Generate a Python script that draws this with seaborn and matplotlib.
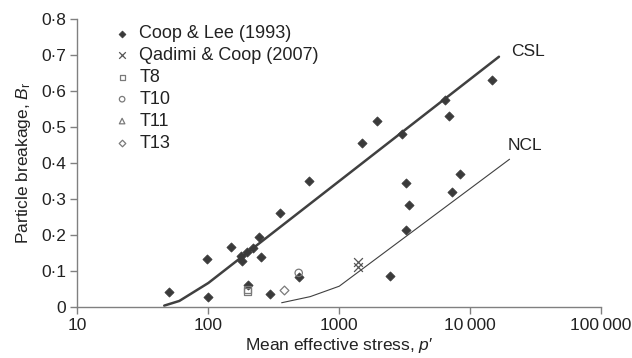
import matplotlib
matplotlib.use("Agg")
import matplotlib.pyplot as plt
import seaborn as sns

# Coop & Lee (1993): mean effective stress p' (kPa) and relative breakage Br
coop_p = [50, 97, 100, 150, 178, 182, 196, 202, 220, 242, 251, 296, 353, 495, 590,
          1480, 1930, 3030, 3250, 3400, 3250, 2440, 7300, 8300, 6430, 6930, 14600]
coop_br = [0.040, 0.133, 0.027, 0.165, 0.141, 0.128, 0.153, 0.060, 0.163, 0.194, 0.139,
           0.035, 0.261, 0.082, 0.349, 0.455, 0.515, 0.479, 0.345, 0.282, 0.213, 0.085,
           0.319, 0.368, 0.574, 0.529, 0.630]

# Qadimi & Coop (2007)
qadimi_p = [1400, 1400]
qadimi_br = [0.125, 0.111]

# Individual tests
t8_p, t8_br = [200, 200], [0.042, 0.047]
t10_p, t10_br = [490], [0.094]
t11_p, t11_br = [], []
t13_p, t13_br = [376], [0.046]

# Critical state line and normal compression line
csl_p = [46, 60, 100, 16600]
csl_br = [0.003, 0.016, 0.066, 0.695]
ncl_p = [363, 600, 1000, 20000]
ncl_br = [0.011, 0.028, 0.057, 0.410]

x_ticks = [10, 100, 1000, 10000, 100000]
x_ticklabels = ["10", "100", "1000", "10\u2009000", "100\u2009000"]
y_ticks = [0, 0.1, 0.2, 0.3, 0.4, 0.5, 0.6, 0.7, 0.8]
y_ticklabels = ["0", "0·1", "0·2", "0·3", "0·4", "0·5", "0·6", "0·7", "0·8"]

sns.set_theme(style="ticks")
plt.rcParams["font.family"] = ["Liberation Sans", "DejaVu Sans"]
plt.rcParams["mathtext.fontset"] = "custom"
plt.rcParams["mathtext.rm"] = "Liberation Sans"
plt.rcParams["mathtext.it"] = "Liberation Sans:italic"

fig = plt.figure(figsize=(6.32, 3.58), dpi=100)
ax = fig.add_axes([0.1226, 0.1433, 0.8284, 0.8037])

ink = "#3a3a3a"
light = "#7a7a7a"
text_col = "#222222"

sns.lineplot(x=csl_p, y=csl_br, ax=ax, color="#404040", linewidth=1.8, sort=False)
sns.lineplot(x=ncl_p, y=ncl_br, ax=ax, color="#404040", linewidth=0.8, sort=False)

sns.scatterplot(x=coop_p, y=coop_br, ax=ax, marker="D", s=22, color=ink,
                edgecolor=ink, linewidth=0.5, label="Coop & Lee (1993)", zorder=3)
sns.scatterplot(x=qadimi_p, y=qadimi_br, ax=ax, marker="x", s=40, color="#555555",
                linewidth=0.9, label="Qadimi & Coop (2007)", zorder=3)
sns.scatterplot(x=t8_p, y=t8_br, ax=ax, marker="s", s=24, facecolor="none",
                edgecolor=light, linewidth=0.9, label="T8", zorder=3)
sns.scatterplot(x=t10_p, y=t10_br, ax=ax, marker="o", s=28, facecolor="none",
                edgecolor=light, linewidth=0.9, label="T10", zorder=3)
ax.scatter(t11_p, t11_br, marker="^", s=28, facecolor="none",
           edgecolor=light, linewidth=0.9, label="T11", zorder=3)
sns.scatterplot(x=t13_p, y=t13_br, ax=ax, marker="D", s=20, facecolor="white",
                edgecolor=light, linewidth=0.9, label="T13", zorder=3)

ax.set_xscale("log")
ax.set_xlim(10, 100000)
ax.set_ylim(0, 0.8)
ax.set_xticks(x_ticks)
ax.set_xticklabels(x_ticklabels)
ax.minorticks_off()
ax.set_yticks(y_ticks)
ax.set_yticklabels(y_ticklabels)

for side in ("top", "right"):
    ax.spines[side].set_visible(False)
for side in ("left", "bottom"):
    ax.spines[side].set_color("#808080")
    ax.spines[side].set_linewidth(1.0)
ax.tick_params(axis="both", direction="out", length=5, width=1.0, color="#808080",
               labelsize=12.5, labelcolor=text_col, pad=3)

ax.set_xlabel("Mean effective stress, $p$\u2032", fontsize=12.5, color=text_col, labelpad=2)
ax.set_ylabel("Particle breakage, $B_{\\rm r}$", fontsize=12.5, color=text_col, labelpad=6)

ax.text(27700, 0.709, "CSL", fontsize=12.5, color=text_col, ha="center", va="center")
ax.text(26200, 0.447, "NCL", fontsize=12.5, color=text_col, ha="center", va="center")

leg = ax.legend(loc="upper left", bbox_to_anchor=(0.068, 0.978), frameon=False,
                fontsize=13, handlelength=1.0, handletextpad=0.45, labelspacing=0.27,
                borderpad=0, borderaxespad=0, markerscale=0.75)
for t in leg.get_texts():
    t.set_color(text_col)

fig.savefig("out.png", dpi=100)
